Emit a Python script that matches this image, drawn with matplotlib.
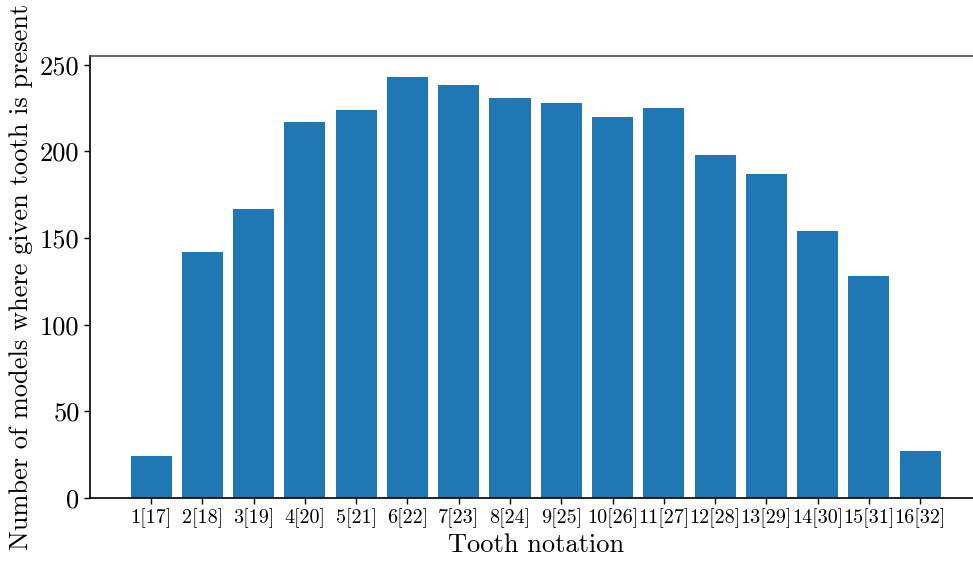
import matplotlib
matplotlib.use("Agg")
import matplotlib.pyplot as plt

plt.rcParams['font.family'] = ['cmr10', 'DejaVu Serif']
plt.rcParams['mathtext.fontset'] = 'cm'
plt.rcParams['axes.formatter.use_mathtext'] = True

tooth_labels = ["1[17]", "2[18]", "3[19]", "4[20]", "5[21]", "6[22]", "7[23]", "8[24]",
                "9[25]", "10[26]", "11[27]", "12[28]", "13[29]", "14[30]", "15[31]", "16[32]"]
counts = [24, 142, 167, 217, 224, 243, 238, 231, 228, 220, 225, 198, 187, 154, 128, 27]
y_ticks = [0, 50, 100, 150, 200, 250]

fig = plt.figure(figsize=(9.73, 5.61), dpi=100)
ax = fig.add_axes([0.0925, 0.1123, 0.916, 0.7884])
x = list(range(len(counts)))
ax.bar(x, counts, width=0.8, color='#1f77b4')
ax.set_xticks(x)
ax.set_xticklabels(tooth_labels, fontsize=14.5)
ax.set_yticks(y_ticks)
ax.set_yticklabels([str(v) for v in y_ticks], fontsize=19)
ax.set_xlabel("Tooth notation", fontsize=19, labelpad=4)
ax.set_ylabel("Number of models where given tooth is present", fontsize=19, labelpad=5)
ax.spines['top'].set_color('0.3')
for s in ['left', 'bottom', 'top', 'right']:
    ax.spines[s].set_linewidth(1.2)
ax.tick_params(width=1.0, length=4)
fig.savefig("out.png", dpi=100)
